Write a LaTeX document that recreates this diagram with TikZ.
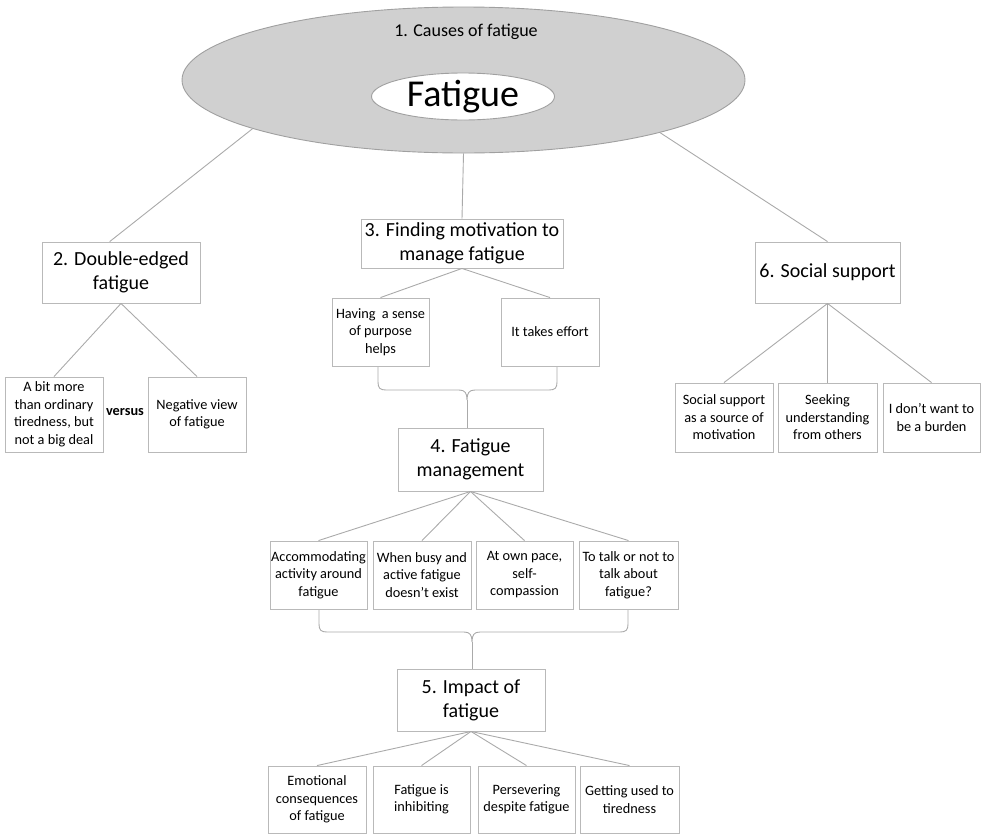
\documentclass[tikz,border=0pt]{standalone}
\usepackage{fontspec}
\setmainfont{Carlito}
\usepackage{xcolor}
\usetikzlibrary{positioning,shapes.geometric}
\definecolor{ellfill}{RGB}{208,208,208}
\definecolor{elldraw}{RGB}{160,160,160}
\definecolor{boxdraw}{RGB}{185,185,185}
\definecolor{linkgray}{RGB}{170,170,170}
\tikzset{
  head/.style={rectangle,draw=boxdraw,line width=0.9pt,align=center,inner sep=0pt,
    font=\fontsize{20}{24}\selectfont},
  leaf/.style={rectangle,draw=boxdraw,line width=0.9pt,align=center,inner sep=0pt,
    minimum width=98pt,minimum height=68pt,font=\fontsize{14.3}{17.5}\selectfont},
  link/.style={draw=linkgray,line width=0.9pt},
  curl/.style={draw=linkgray,line width=0.9pt},
}

\begin{document}
\begin{tikzpicture}[x=1pt,y=-1pt]
                \useasboundingbox (0,0) rectangle (981,833);
                % top ellipse
                \node[ellipse,draw=elldraw,fill=ellfill,line width=0.9pt,minimum width=563pt,minimum height=146pt] (cause) at (463.5,80) {};
                \node[font=\fontsize{18}{20}\selectfont] (ctitle) at (466,32) {1. Causes of fatigue};
                \node[ellipse,draw=elldraw,fill=white,line width=0.9pt,minimum width=183pt,minimum height=47pt,inner sep=0pt,
                  font=\fontsize{38}{40}\selectfont] (fat) at (463,96.5) {Fatigue};

                % themes
                \node[head,minimum width=158pt,minimum height=61pt] (dbl) at (121,272.5) {2. Double-edged\\fatigue};
                \node[head,minimum width=202pt,minimum height=49pt] (motiv) at (462,243.5) {3. Finding motivation to\\manage fatigue};
                \node[head,minimum width=145pt,minimum height=63pt] (manage) at (470.5,459.5) {4. Fatigue\\management};
                \node[head,minimum width=148pt,minimum height=62pt] (impact) at (471,700) {5. Impact of\\fatigue};
                \node[head,minimum width=145pt,minimum height=61pt] (social) at (827.5,272.5) {6. Social support};

                % sub-themes
                \node[leaf,minimum height=75pt] (bit) at (54,414.5) {A bit more\\than ordinary\\tiredness, but\\not a big deal};
                \node[leaf,minimum height=75pt] (neg) at (197,414.5) {Negative view\\of fatigue};
                \node[font=\fontsize{14.3}{17.5}\selectfont\bfseries] (vs) at (125,412) {versus};

                \node[leaf,minimum width=97pt] (hav) at (380.5,332) {Having\ \ a sense\\of purpose\\helps};
                \node[leaf] (eff) at (550,332) {It takes effort};

                \node[leaf,minimum width=97pt] (acc) at (318.5,575) {Accommodating\\activity around\\fatigue};
                \node[leaf] (busy) at (422,575) {When busy and\\active fatigue\\doesn’t exist};
                \node[leaf,minimum width=97pt] (pace) at (524.5,575) {At own pace,\\self-\\compassion};
                \node[leaf,minimum width=99pt] (talk) at (628.5,575) {To talk or not to\\talk about\\fatigue?};

                \node[leaf,minimum height=67pt] (emo) at (317,799.5) {Emotional\\consequences\\of fatigue};
                \node[leaf,minimum width=97pt,minimum height=67pt] (inh) at (421.5,799.5) {Fatigue is\\inhibiting};
                \node[leaf,minimum width=97pt,minimum height=67pt] (pers) at (526.5,799.5) {Persevering\\despite fatigue};
                \node[leaf,minimum width=99pt,minimum height=67pt] (used) at (629.5,799.5) {Getting used to\\tiredness};

                \node[leaf,minimum height=69pt] (src) at (724,417.5) {Social support\\as a source of\\motivation};
                \node[leaf,minimum width=99pt,minimum height=69pt] (seek) at (827.5,417.5) {Seeking\\understanding\\from others};
                \node[leaf,minimum width=97pt,minimum height=69pt] (burd) at (931.5,417.5) {I don’t want to\\be a burden};

                % links
                \draw[link] (cause.193) -- (dbl.110);
                \draw[link] (cause.south) -- (motiv.north);
                \draw[link] (cause.345) -- (social.north);
                \draw[link] (dbl.south) -- (bit.north);
                \draw[link] (dbl.south) -- (neg.north);
                \draw[link] (motiv.south) -- (hav.north);
                \draw[link] (motiv.south) -- (eff.north);
                \foreach \n in {acc,busy,pace,talk}
                  \draw[link] (manage.south) -- (\n.north);
                \foreach \n in {emo,inh,pers,used}
                  \draw[link] (impact.south) -- (\n.north);
                \foreach \n in {src,seek,burd}
                  \draw[link] (social.south) -- (\n.north);

                % braces
                \coordinate (tipa) at (467,400);
                \coordinate (tipb) at (472,642);
                \draw[curl] (378,367) -- (378,382) .. controls (378,388) and (380,390) .. (386,390) -- (459,390)
                  .. controls (465,390) and (467,393) .. (tipa) .. controls (467,393) and (469,390) .. (475,390)
                  -- (549,390) .. controls (555,390) and (557,388) .. (557,382) -- (557,367);
                \draw[curl] (319,610) -- (319,624) .. controls (319,630) and (321,632) .. (327,632) -- (464,632)
                  .. controls (470,632) and (472,635) .. (tipb) .. controls (472,635) and (474,632) .. (480,632)
                  -- (620,632) .. controls (626,632) and (628,630) .. (628,624) -- (628,610);
                \draw[link] (tipa) -- (tipa |- manage.north);
                \draw[link] (tipb) -- (tipb |- impact.north);
              \end{tikzpicture}
\end{document}
